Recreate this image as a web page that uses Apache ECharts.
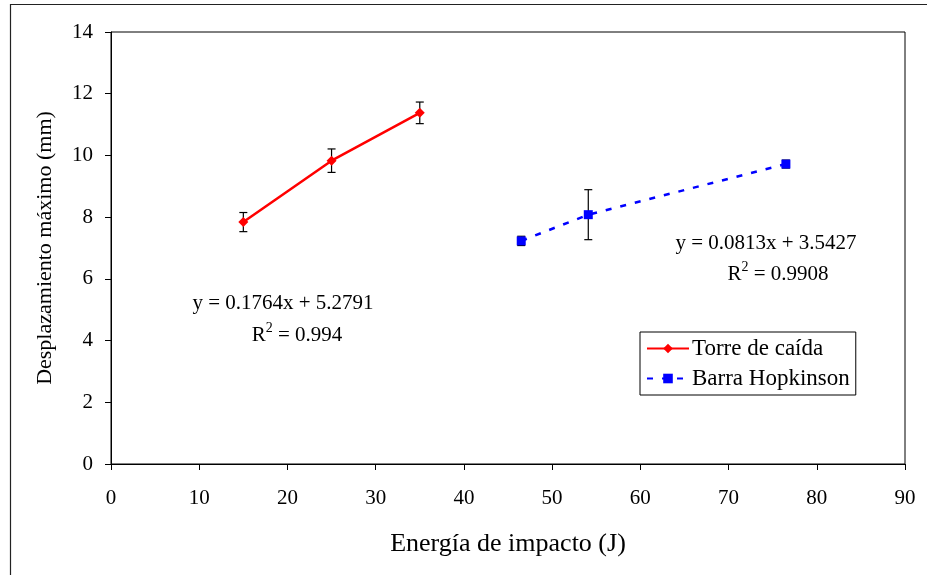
<!DOCTYPE html>
<html>
<head>
<meta charset="utf-8">
<script src="https://cdn.jsdelivr.net/npm/echarts@6/dist/echarts.min.js"></script>
<style>
  html, body { margin: 0; padding: 0; background: #fff; }
  #chart { width: 927px; height: 575px; }
</style>
</head>
<body>
<div id="chart"></div>
<script>
// Torre de caída
const torreX = [15, 25, 35]
const torreY = [7.84, 9.83, 11.38]
const torreErr = [0.31, 0.38, 0.35]

// Barra Hopkinson
const barraX = [46.5, 54.1, 76.5]
const barraY = [7.23, 8.08, 9.72]
const barraErr = [0.15, 0.81, 0.13]

const fitTorre = ['y = 0.1764x + 5.2791', '0.994']
const fitBarra = ['y = 0.0813x + 3.5427', '0.9908']

const font = 'Liberation Serif'

const chart = echarts.init(document.getElementById('chart'))

function pairs(xs, ys) {
  return xs.map((x, i) => [x, ys[i]])
}

function errData(xs, ys, errs) {
  return xs.map((x, i) => [x, ys[i] - errs[i], ys[i] + errs[i]])
}

function errorBars(params, api) {
  const x = api.value(0)
  const lo = api.coord([x, api.value(1)])
  const hi = api.coord([x, api.value(2)])
  const half = 4
  const style = { stroke: '#000', lineWidth: 1.2 }
  return {
    type: 'group',
    children: [
      { type: 'line', shape: { x1: lo[0], y1: lo[1], x2: hi[0], y2: hi[1] }, style },
      { type: 'line', shape: { x1: lo[0] - half, y1: lo[1], x2: lo[0] + half, y2: lo[1] }, style },
      { type: 'line', shape: { x1: hi[0] - half, y1: hi[1], x2: hi[0] + half, y2: hi[1] }, style },
    ],
  }
}

// two centred lines: equation and R²
function eqText(cx1, cy1, cx2, cy2, lines) {
  return [
    {
      type: 'text',
      x: cx1,
      y: cy1,
      style: {
        text: lines[0],
        font: '21px ' + font,
        fill: '#000',
        align: 'center',
        verticalAlign: 'middle',
      },
    },
    {
      type: 'text',
      x: cx2,
      y: cy2,
      style: {
        text: '{r|R}{s|2}{r| = ' + lines[1] + '}',
        fill: '#000',
        align: 'center',
        verticalAlign: 'middle',
        rich: {
          r: { fontFamily: font, fontSize: 21, lineHeight: 28 },
          s: { fontFamily: font, fontSize: 14, lineHeight: 28, padding: [0, 0, 14, 0] },
        },
      },
    },
  ]
}

const option = {
  animation: false,
  grid: {
    left: 111,
    right: 22,
    top: 32,
    bottom: 111,
    show: true,
    borderColor: '#000',
    borderWidth: 1,
  },
  xAxis: {
    type: 'value',
    min: 0,
    max: 90,
    interval: 10,
    name: 'Energía de impacto (J)',
    nameLocation: 'middle',
    nameGap: 67,
    nameTextStyle: { fontFamily: font, fontSize: 26, color: '#000' },
    axisLine: { lineStyle: { color: '#000', width: 1 } },
    axisTick: { show: true, inside: false, length: 6, lineStyle: { color: '#000' } },
    axisLabel: { fontFamily: font, fontSize: 21, color: '#000', margin: 24 },
    splitLine: { show: false },
  },
  yAxis: {
    type: 'value',
    min: 0,
    max: 14,
    interval: 2,
    name: 'Desplazamiento máximo (mm)',
    nameLocation: 'middle',
    nameGap: 55,
    nameTextStyle: { fontFamily: font, fontSize: 22, color: '#000' },
    axisLine: { show: true, lineStyle: { color: '#000', width: 1 } },
    axisTick: { show: true, inside: false, length: 6, lineStyle: { color: '#000' } },
    axisLabel: { fontFamily: font, fontSize: 21, color: '#000', margin: 18 },
    splitLine: { show: false },
  },
  legend: {
    orient: 'vertical',
    left: 640,
    top: 332,
    data: ['Torre de caída', 'Barra Hopkinson'],
    backgroundColor: '#fff',
    borderColor: '#000',
    borderWidth: 1,
    borderRadius: 0,
    padding: [5, 6, 5, 6],
    itemGap: 7,
    itemWidth: 42,
    itemHeight: 12,
    textStyle: { fontFamily: font, fontSize: 23, color: '#000', padding: [0, 0, 0, -2] },
  },
  graphic: [
    {
      type: 'rect',
      left: 8,
      top: 2,
      shape: { width: 1000, height: 1000 },
      style: { fill: 'none', stroke: '#222', lineWidth: 1.2 },
      silent: true,
      z: -10,
    },
    ...eqText(283, 303, 297, 335, fitTorre),
    ...eqText(766, 243, 778, 274, fitBarra),
  ],
  series: [
    {
      name: 'Torre de caída',
      type: 'line',
      data: pairs(torreX, torreY),
      symbol: 'diamond',
      symbolSize: 10,
      lineStyle: { color: '#ff0000', width: 2.5 },
      itemStyle: { color: '#ff0000' },
      z: 3,
    },
    {
      name: 'Barra Hopkinson',
      type: 'line',
      data: pairs(barraX, barraY),
      symbol: 'rect',
      symbolSize: 9,
      lineStyle: { color: '#0000ff', width: 2.5, type: [6, 9] },
      itemStyle: { color: '#0000ff' },
      z: 3,
    },
    {
      name: 'errTorre',
      type: 'custom',
      renderItem: errorBars,
      data: errData(torreX, torreY, torreErr),
      encode: { x: 0, y: [1, 2] },
      z: 2,
    },
    {
      name: 'errBarra',
      type: 'custom',
      renderItem: errorBars,
      data: errData(barraX, barraY, barraErr),
      encode: { x: 0, y: [1, 2] },
      z: 2,
    },
  ],
}

chart.setOption(option)
</script>
</body>
</html>
